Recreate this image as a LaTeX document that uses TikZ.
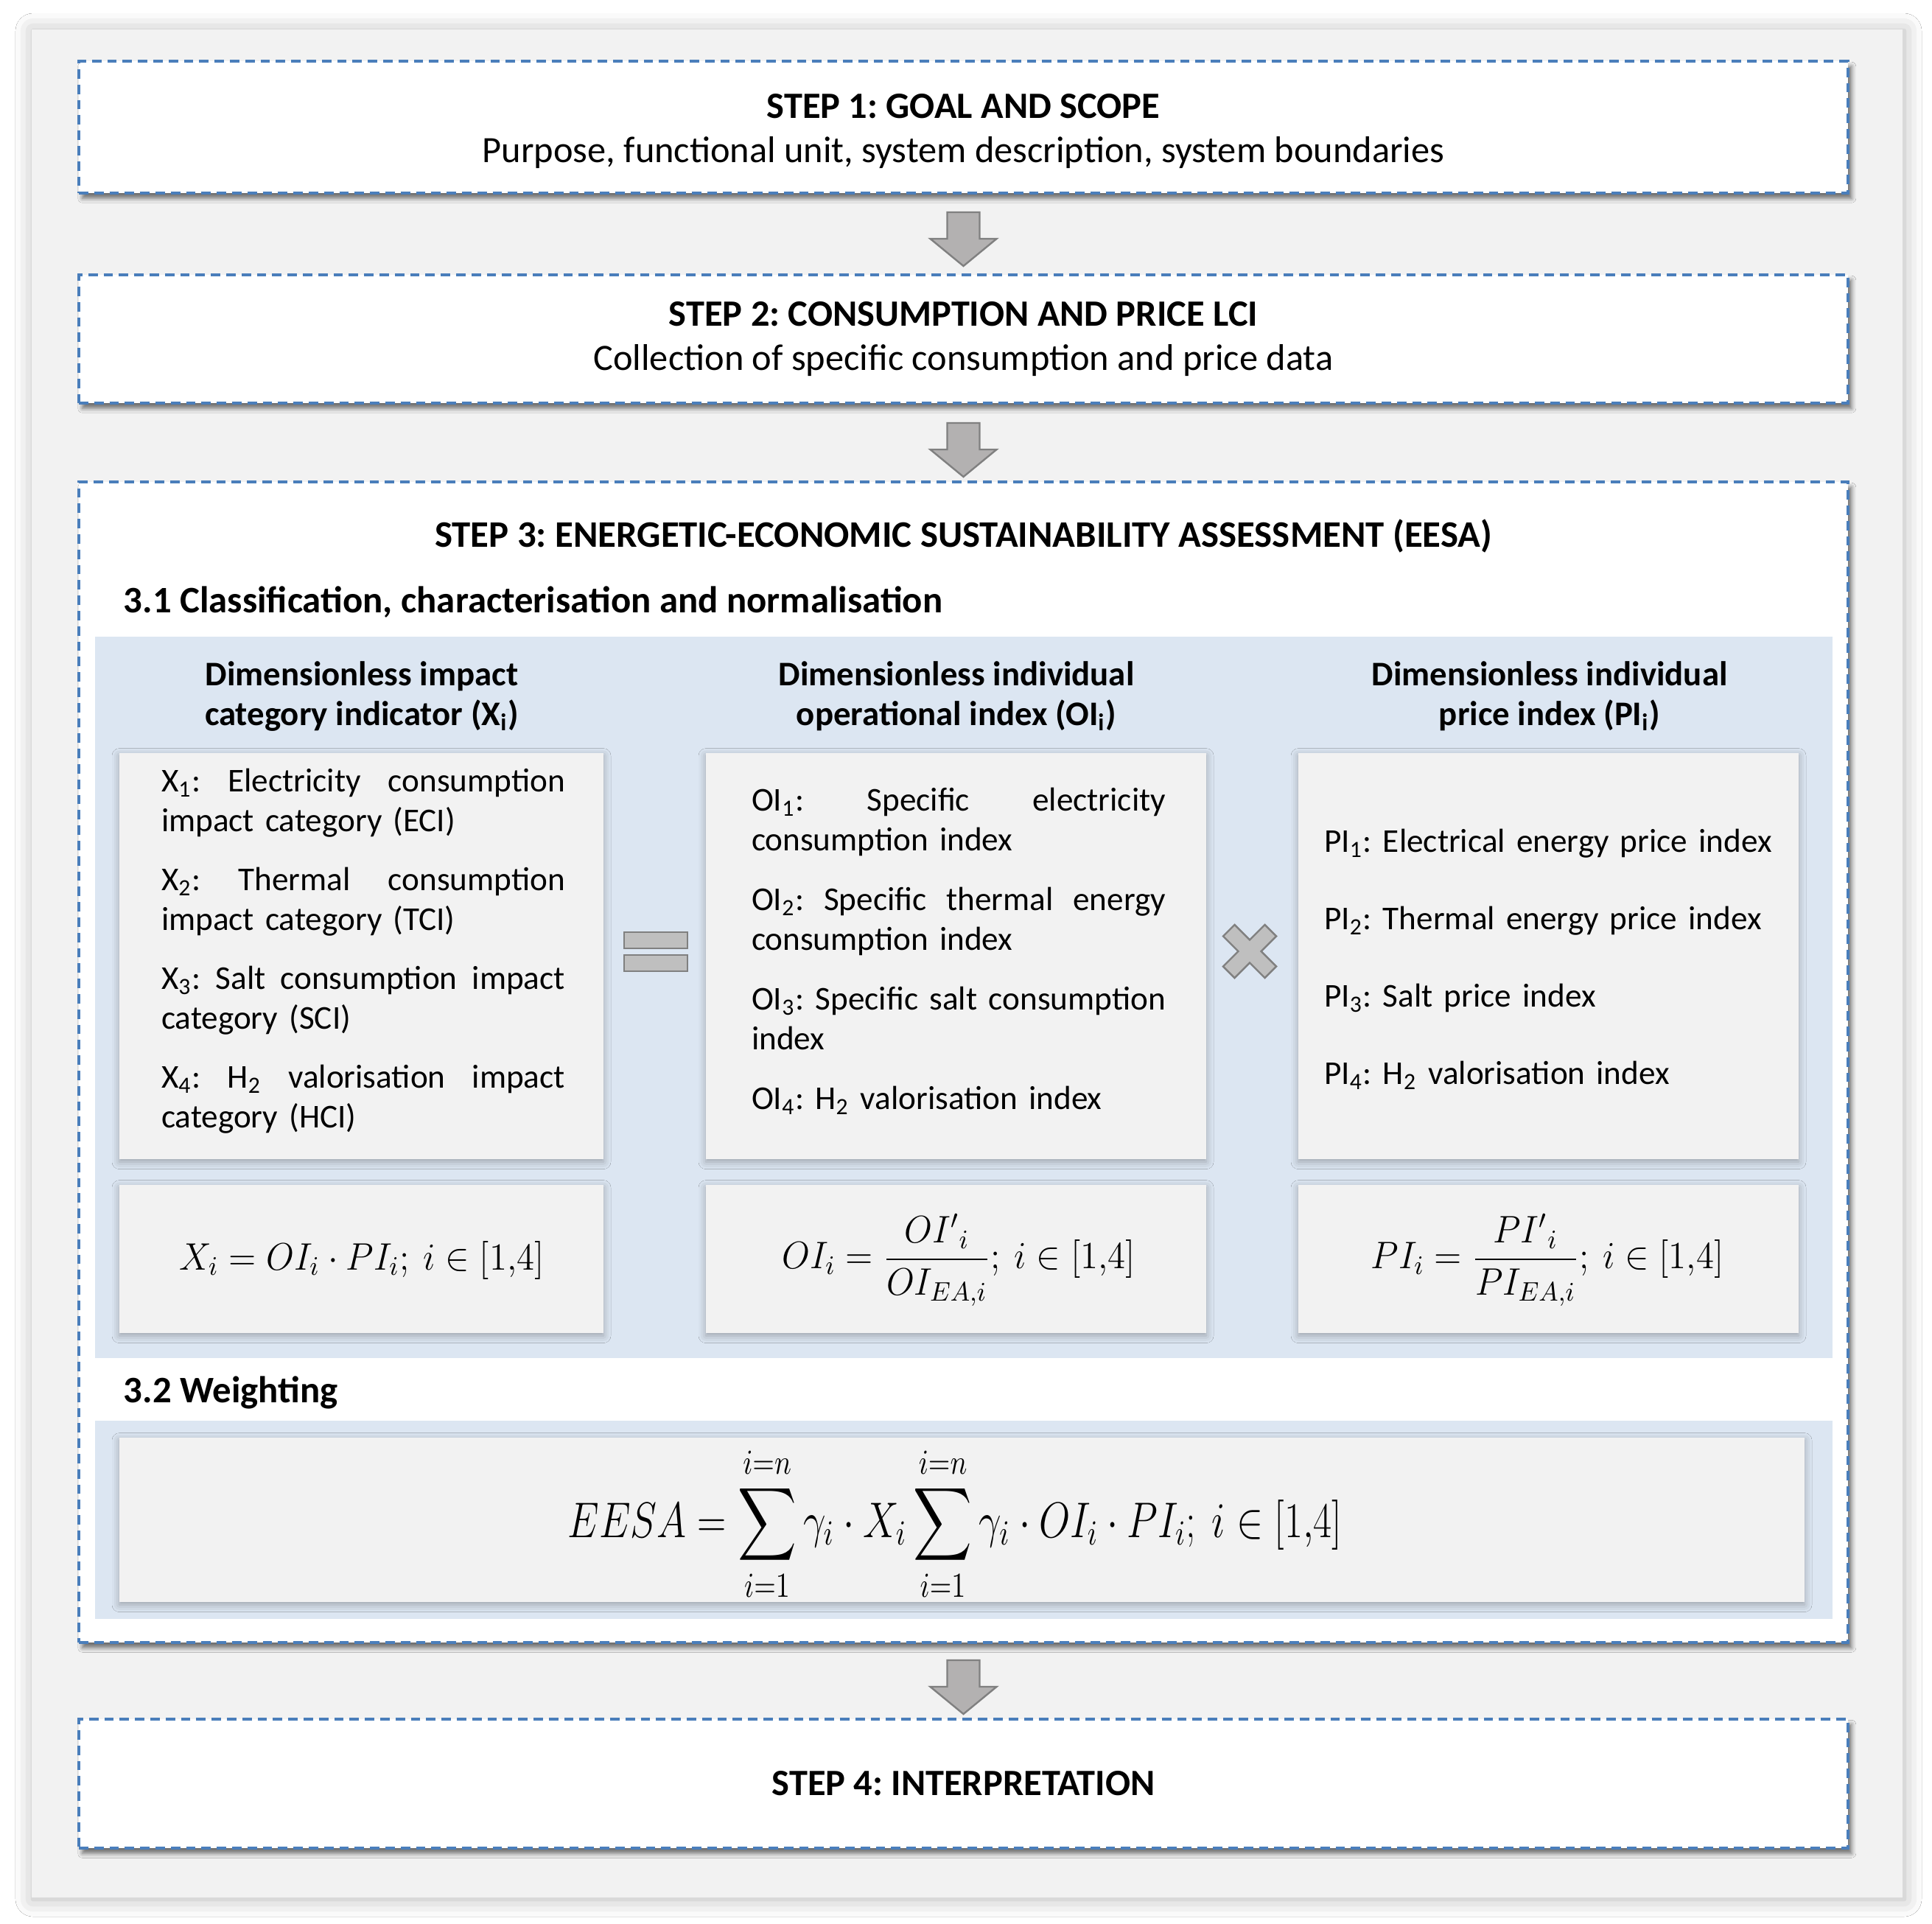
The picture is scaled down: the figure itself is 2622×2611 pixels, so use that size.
\RequirePackage{fix-cm}
\documentclass[tikz,border=0pt]{standalone}
\usepackage{amsmath}
\usepackage{graphicx}
\usepackage[no-math]{fontspec}
\setmainfont{Carlito}
\usetikzlibrary{shadows.blur,calc}
\definecolor{dashblue}{HTML}{4A7EBB}
\definecolor{lightblue}{HTML}{DCE6F2}
\definecolor{boxgray}{HTML}{F2F2F2}
\definecolor{arrowgray}{HTML}{B3B1B1}
\definecolor{symgray}{HTML}{BFBFBF}
\definecolor{edgegray}{HTML}{808080}
\frenchspacing
\newcommand\jl[2]{\leavevmode\hbox to #1{#2}}
\newcommand\blockarrowat[1]{\draw[barrow] #1 ++(-22,0) -- ++(44,0) -- ++(0,36) -- ++(23,0) -- ++(-45,37) -- ++(-45,-37) -- ++(23,0) -- cycle;}
\begin{document}
\begin{tikzpicture}[x=0.25pt,y=-0.25pt,
  panel/.style={fill=boxgray, draw=none, minimum width=634.75pt, minimum height=633.75pt, inner sep=0,
    blur shadow={shadow xshift=0.5pt, shadow yshift=-0.5pt, shadow blur radius=6pt, shadow opacity=30}},
  stepbox/.style={fill=white, draw=dashblue, line width=1pt, dash pattern=on 3.2pt off 2pt,
    minimum width=600.25pt, inner sep=0, align=center,
    font=\fontsize{12.6}{15}\selectfont,
    blur shadow={shadow xshift=1.2pt, shadow yshift=-1.8pt, shadow blur radius=1.5pt, shadow opacity=55}},
  steptext/.style={inner sep=0, align=center, font=\fontsize{12.6}{15}\selectfont},
  bluearea/.style={fill=lightblue, draw=none, minimum width=589.5pt, inner sep=0},
  graybox/.style={fill=boxgray, draw=none, inner sep=0,
    blur shadow={shadow xshift=0pt, shadow yshift=-0.9pt, shadow blur radius=2.5pt, shadow opacity=30}},
  txt/.style={inner sep=0, align=left, font=\fontsize{11.3}{13.5}\selectfont},
  hdr/.style={inner sep=0, align=center, font=\fontsize{11.7}{13.5}\selectfont\bfseries},
  ttl/.style={inner sep=0, font=\fontsize{12.7}{15}\selectfont\bfseries},
  mth/.style={inner sep=0, font=\fontsize{13}{15}\selectfont},
  barrow/.style={fill=arrowgray, draw=edgegray, line width=0.6pt, line join=miter},
  symfill/.style={fill=symgray, draw=edgegray, line width=0.6pt}
]
\useasboundingbox (0,0) rectangle (2622,2611);
\fill[white] (0,0) rectangle (2622,2611);
\node[panel] (panel) at (1312.5,1307.5) {};

% step boxes
\node[stepbox, minimum height=44.75pt] (s1) at (1307.5,172.5) {};
\node[steptext] (s1text) at (1307.5,178)
  {\textbf{STEP 1: GOAL AND SCOPE}\\Purpose, functional unit, system description, system boundaries};
\node[stepbox, minimum height=43.5pt] (s2) at (1307.5,460)
  {\textbf{STEP 2: CONSUMPTION AND PRICE LCI}\\Collection of specific consumption and price data};
\node[stepbox, minimum height=393.75pt] (s3) at (1307.5,1441.5) {};
\node[stepbox, minimum height=43.75pt] (s4) at (1307.5,2420.5) {\textbf{STEP 4: INTERPRETATION}};

% arrows
\blockarrowat{($(s1.south)+(0,24)$)}
\blockarrowat{($(s2.south)+(0,25)$)}
\blockarrowat{($(s3.south)+(0,22)$)}

% step 3 content
\node[ttl] (s3title) at (1307.5,727) {STEP 3: ENERGETIC-ECONOMIC SUSTAINABILITY ASSESSMENT (EESA)};
\node[ttl, anchor=west] (sub31) at (167,817) {3.1 Classification, characterisation and normalisation};
\node[bluearea, minimum height=244.75pt] (blue1) at (1308,1353.5) {};
\node[ttl, anchor=west] (sub32) at (167,1890) {3.2 Weighting};
\node[bluearea, minimum height=67.25pt] (blue2) at (1308,2062.5) {};

% headers
\node[hdr] (hl) at (491,945) {Dimensionless impact\\category indicator (X\textsubscript{i})};
\node[hdr] (hm) at (1298,945) {Dimensionless individual\\operational index (OI\textsubscript{i})};
\node[hdr] (hr) at (2103,945) {Dimensionless individual\\price index (PI\textsubscript{i})};

% upper boxes
\node[graybox, minimum width=164.25pt, minimum height=137.75pt] (bl) at (490.5,1297.5) {};
\node[graybox, minimum width=169.75pt, minimum height=137.75pt] (bm) at (1297.5,1297.5) {};
\node[graybox, minimum width=169.75pt, minimum height=137.75pt] (br) at (2101.5,1297.5) {};

\node[txt, text width=137pt] (tl) at (493,1291) {%
\jl{137pt}{X\textsubscript{1}:\hfill Electricity\hfill consumption}\\
impact category (ECI)\\[6.5pt]
\jl{137pt}{X\textsubscript{2}:\hfill Thermal\hfill consumption}\\
impact category (TCI)\\[6.5pt]
\jl{137pt}{X\textsubscript{3}:\hfill Salt\hfill consumption\hfill impact}\\
category (SCI)\\[6.5pt]
\jl{137pt}{X\textsubscript{4}:\hfill H\textsubscript{2}\hfill valorisation\hfill impact}\\
category (HCI)};

\node[txt, text width=140.5pt] (tm) at (1301,1291) {%
\jl{140.5pt}{OI\textsubscript{1}:\hfill Specific\hfill electricity}\\
consumption index\\[6.75pt]
\jl{140.5pt}{OI\textsubscript{2}:\hfill Specific\hfill thermal\hfill energy}\\
consumption index\\[6.75pt]
\jl{140.5pt}{OI\textsubscript{3}:\hfill Specific\hfill salt\hfill consumption}\\
index\\[6.75pt]
OI\textsubscript{4}: H\textsubscript{2} valorisation index};

\node[txt, text width=158pt] (tr) at (2113,1302) {%
PI\textsubscript{1}: Electrical energy price index\\[12.75pt]
PI\textsubscript{2}: Thermal energy price index\\[12.75pt]
PI\textsubscript{3}: Salt price index\\[12.75pt]
PI\textsubscript{4}: H\textsubscript{2} valorisation index};

% lower boxes
\node[graybox, minimum width=164.25pt, minimum height=50.25pt] (fl) at (490.5,1708.5) {};
\node[graybox, minimum width=169.75pt, minimum height=50.25pt] (fm) at (1297.5,1708.5) {};
\node[graybox, minimum width=169.75pt, minimum height=50.25pt] (fr) at (2101.5,1708.5) {};
\node[mth] (ml) at (491,1710) {\scalebox{0.94}[1]{$X_i = OI_i\cdot PI_i;\ i\in[1{,}4]$}};
\node[mth] (mm) at (1301,1710) {\scalebox{0.94}[1]{$OI_i=\dfrac{{OI'}_i}{OI_{EA,i}};\ i\in[1{,}4]$}};
\node[mth] (mr) at (2100,1710) {\scalebox{0.94}[1]{$PI_i=\dfrac{{PI'}_i}{PI_{EA,i}};\ i\in[1{,}4]$}};

% weighting box
\node[graybox, minimum width=571.75pt, minimum height=55.75pt] (bw) at (1305.5,2062.5) {};
\node[inner sep=0, font=\fontsize{17}{20}\selectfont] (mw) at (1296,2068)
  {\scalebox{0.8}[1]{$\displaystyle EESA=\sum_{i=1}^{i=n}\gamma_i\cdot X_i\sum_{i=1}^{i=n}\gamma_i\cdot OI_i\cdot PI_i;\ i\in[1{,}4]$}};

% operators
\draw[symfill] (847,1265) rectangle (933,1287);
\draw[symfill] (847,1296) rectangle (933,1318);
\draw[symfill, shift={(1696,1291)}, rotate=45]
  (-11,40) -- (11,40) -- (11,11) -- (40,11) -- (40,-11) -- (11,-11) -- (11,-40)
  -- (-11,-40) -- (-11,-11) -- (-40,-11) -- (-40,11) -- (-11,11) -- cycle;
\end{tikzpicture}
\end{document}
